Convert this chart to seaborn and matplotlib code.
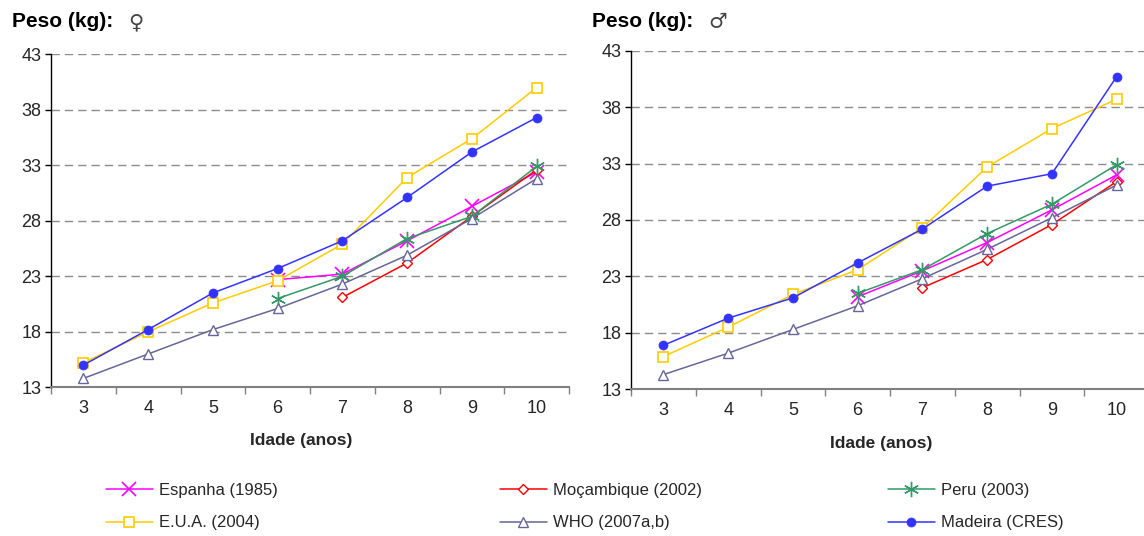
import numpy as np
import pandas as pd
import matplotlib
matplotlib.use("Agg")
import matplotlib.pyplot as plt
import seaborn as sns

# ---------------- data ----------------
ages = [3, 4, 5, 6, 7, 8, 9, 10]
ages_from6 = [6, 7, 8, 9, 10]
ages_from7 = [7, 8, 9, 10]

fem_espanha = [22.7, 23.2, 26.2, 29.3, 32.4]
fem_mocambique = [21.1, 24.2, 28.4, 32.6]
fem_peru = [21.0, 23.0, 26.4, 28.4, 32.9]
fem_eua = [15.2, 18.0, 20.6, 22.6, 25.9, 31.9, 35.4, 40.0]
fem_who = [13.8, 16.0, 18.2, 20.1, 22.3, 24.9, 28.2, 31.8]
fem_madeira = [15.0, 18.2, 21.5, 23.7, 26.2, 30.1, 34.2, 37.3]

male_espanha = [21.2, 23.5, 26.0, 28.9, 32.0]
male_mocambique = [22.0, 24.5, 27.6, 31.4]
male_peru = [21.5, 23.6, 26.8, 29.4, 32.9]
male_eua = [15.9, 18.5, 21.4, 23.6, 27.3, 32.7, 36.1, 38.7]
male_who = [14.3, 16.2, 18.3, 20.4, 22.8, 25.4, 28.2, 31.1]
male_madeira = [16.9, 19.3, 21.1, 24.2, 27.2, 31.0, 32.1, 40.7]

series_names = ["Espanha (1985)", "Moçambique (2002)", "Peru (2003)",
                "E.U.A. (2004)", "WHO (2007a,b)", "Madeira (CRES)"]
series_ages = [ages_from6, ages_from7, ages_from6, ages, ages, ages]
fem_values = [fem_espanha, fem_mocambique, fem_peru, fem_eua, fem_who, fem_madeira]
male_values = [male_espanha, male_mocambique, male_peru, male_eua, male_who, male_madeira]

y_ticks = [13, 18, 23, 28, 33, 38, 43]
panel_titles = ["Peso (kg):", "Peso (kg):"]
panel_symbols = ["\u2640", "\u2642"]
x_label = "Idade (anos)"

# ---------------- style ----------------
sns.set_style("white")
plt.rcParams["font.family"] = ["Liberation Sans", "DejaVu Sans"]

styles = {
    "Espanha (1985)": dict(color="#FF00FF", marker="x", markersize=10, markeredgewidth=1.2),
    "Moçambique (2002)": dict(color="#FF0000", marker="D", markersize=5,
                              markerfacecolor="white", markeredgewidth=1.0),
    "Peru (2003)": dict(color="#339966", marker=(6, 2, 0), markersize=11, markeredgewidth=1.0),
    "E.U.A. (2004)": dict(color="#FFCC00", marker="s", markersize=6.5,
                          markerfacecolor="white", markeredgewidth=1.2),
    "WHO (2007a,b)": dict(color="#666699", marker="^", markersize=7.5,
                          markerfacecolor="white", markeredgewidth=1.0),
    "Madeira (CRES)": dict(color="#3333FF", marker="o", markersize=6.5,
                           markeredgewidth=0.5),
}

W, H = 1144, 536
fig = plt.figure(figsize=(W / 100, H / 100), dpi=100)
axL = fig.add_axes([51 / W, (H - 387.3) / H, 518 / W, (387.3 - 54.3) / H])
axR = fig.add_axes([631 / W, (H - 389.3) / H, 518 / W, (389.3 - 50.7) / H])


def draw_panel(ax, values):
    for name, xs, ys in zip(series_names, series_ages, values):
        df = pd.DataFrame({"Idade": xs, "Peso": ys})
        st = dict(styles[name])
        sns.lineplot(data=df, x="Idade", y="Peso", ax=ax, label=name,
                     linewidth=1.1, markeredgecolor=st["color"], legend=False, **st)
    ax.set_xlim(ages[0] - 0.5, ages[-1] + 0.5)
    ax.set_ylim(y_ticks[0], y_ticks[-1])
    ax.set_yticks(y_ticks)
    ax.set_yticklabels([str(t) for t in y_ticks], fontsize=13)
    ax.set_xticks(ages)
    ax.set_xticklabels([str(a) for a in ages], fontsize=13)
    ax.set_xticks([a + 0.5 for a in [ages[0] - 1] + ages], minor=True)
    ax.tick_params(axis="x", which="major", length=0, pad=9)
    ax.tick_params(axis="x", which="minor", length=5, width=1.0, color="#808080",
                   direction="out", bottom=True)
    ax.tick_params(axis="y", which="major", length=4, width=1.0, color="black",
                   direction="out", left=True, pad=3)
    for t in y_ticks[1:]:
        ax.axhline(t, color="#8c8c8c", linewidth=1.0, linestyle=(0, (6, 3.6)), zorder=0)
    for s in ["top", "right"]:
        ax.spines[s].set_visible(False)
    ax.spines["left"].set_color("black")
    ax.spines["left"].set_linewidth(1.0)
    ax.spines["bottom"].set_color("#808080")
    ax.spines["bottom"].set_linewidth(1.5)
    ax.set_ylabel("")
    ax.set_xlabel(x_label, fontsize=12.5, fontweight="bold")
    ax.xaxis.set_label_coords(0.483, -0.138)
    ax.xaxis.label.set_va("top")


draw_panel(axL, fem_values)
draw_panel(axR, male_values)

# titles
for xt, xs, title, sym in [(12, 128, panel_titles[0], panel_symbols[0]),
                           (592, 708, panel_titles[1], panel_symbols[1])]:
    fig.text(xt / W, 1 - 27 / H, title, fontsize=15, fontweight="bold",
             va="baseline", ha="left", color="black")
    fig.text(xs / W, 1 - 22.5 / H, sym, fontsize=15, va="center", ha="left",
             color="#444444", family=["DejaVu Sans"])

# legend: three columns
handles, labels = axL.get_legend_handles_labels()
hmap = dict(zip(labels, handles))
columns = [(["Espanha (1985)", "E.U.A. (2004)"], 106),
           (["Moçambique (2002)", "WHO (2007a,b)"], 500),
           (["Peru (2003)", "Madeira (CRES)"], 888)]
for labs, x0 in columns:
    fig.legend([hmap[l] for l in labs], labs, loc="upper left",
               bbox_to_anchor=(x0 / W, 1 - 483 / H), frameon=False,
               fontsize=12, handlelength=2.8, handletextpad=0.4,
               labelspacing=1.05, borderpad=0, borderaxespad=0)

fig.savefig("out.png", dpi=100)
